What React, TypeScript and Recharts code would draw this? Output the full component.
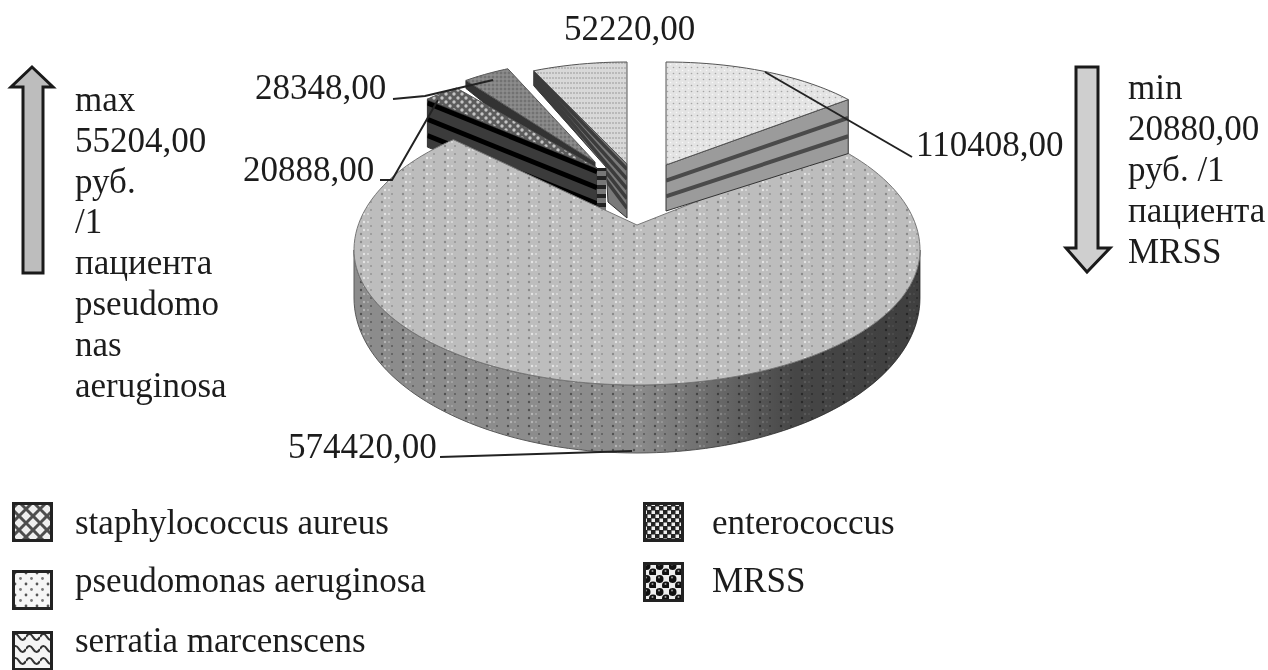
import { PieChart, Pie, Legend } from "recharts";

const sliceNames = ["serratia marcenscens", "enterococcus", "MRSS", "staphylococcus aureus", "pseudomonas aeruginosa"];
const sliceValues = [52220, 28348, 20888, 574420, 110408];
const legendLeft = ["staphylococcus aureus", "pseudomonas aeruginosa", "serratia marcenscens"];
const legendRight = ["enterococcus", "MRSS"];
const maxNote = ["max", "55204,00", "руб.", "/1", "пациента", "pseudomo", "nas", "aeruginosa"];
const minNote = ["min", "20880,00", "руб. /1", "пациента", "MRSS"];

const chartData = sliceNames.map((name, i) => ({ name, value: sliceValues[i] }));
const FONT = '"Liberation Serif", "Times New Roman", serif';
const INK = "#1c1c1c";

// how each slice is pulled apart and tilted, the angles come from the Pie
const tilt: Record<string, any> = {
  "serratia marcenscens": { cx: 627, cy: 164, rx: 230, ryBack: 102, ryFront: 102, wall: "lo", apexDepth: 54, rimDepth: 15, kink: [[-19, 38], [-21, 3]], top: "url(#topSerratia)", wallFill: "#7a7a7a", stripeColor: "#3c3c3c", stripeWidth: 3.5, stripes: [0.1, 0.28, 0.46, 0.64, 0.82] },
  enterococcus: { cx: 595, cy: 162, rx: 215, ryBack: 102, ryFront: 102, wall: "lo", apexDepth: 30, rimDepth: 8, top: "url(#topEntero)", wallFill: "#333", stripeColor: "#111", stripeWidth: 1, stripes: [] },
  MRSS: { cx: 597, cy: 168, rx: 234, ryBack: 100, ryFront: 100, wall: "lo", apexDepth: 47, rimDepth: 48, endPanel: 9, top: "url(#topMrss)", wallFill: "#3b3b3b", stripeColor: "#000", stripeWidth: 5, stripes: [0.08, 0.42, 0.76] },
  "staphylococcus aureus": { cx: 637, cy: 250, rx: 283, ryBack: 145, ryFront: 135, apexY: 225, hiShift: 6, loShift: -6, top: "url(#topStaph)", side: "url(#sideStaph)" },
  "pseudomonas aeruginosa": { cx: 666, cy: 165, rx: 236, ryBack: 103, ryFront: 103, wall: "hi", apexDepth: 46, rimDepth: 54, top: "url(#topPseudo)", wallFill: "#9b9b9b", stripeColor: "#4a4a4a", stripeWidth: 4, stripes: [0.34, 0.68] },
};

// where the value labels sit and the leader line back to the slice
const labelPlace: Record<string, any> = {
  "serratia marcenscens": { x: 564, y: 40, line: "" },
  enterococcus: { x: 255, y: 99, line: "393,99 425,96 493,80" },
  MRSS: { x: 243, y: 181, line: "380,180 392,180 438,100" },
  "staphylococcus aureus": { x: 288, y: 458, line: "440,457 632,451" },
  "pseudomonas aeruginosa": { x: 916, y: 156, line: "765,72 912,157" },
};

const swatchFill: Record<string, string> = {
  "staphylococcus aureus": "url(#swStaph)",
  "pseudomonas aeruginosa": "url(#swPseudo)",
  "serratia marcenscens": "url(#swSerratia)",
  enterococcus: "url(#swEntero)",
  MRSS: "url(#swMrss)",
};

function Slice3D(props: any) {
  const g = tilt[props.name];
  const a0 = 90 - props.startAngle;
  const a1 = 90 - props.endAngle;
  const lo = Math.min(a0, a1) + (g.loShift || 0);
  const hi = Math.max(a0, a1) + (g.hiShift || 0);
  const pt = (a: number) => {
    const r = (a * Math.PI) / 180;
    const c = Math.cos(r);
    return [g.cx + g.rx * Math.sin(r), g.cy - (c > 0 ? g.ryBack : g.ryFront) * c];
  };
  const rim: number[][] = [];
  for (let a = lo; a < hi; a += 2) rim.push(pt(a));
  rim.push(pt(hi));
  const apex = [g.cx, g.apexY ?? g.cy];
  const topPath = "M" + [apex, ...rim].map((p) => p.join(" ")).join("L") + "Z";

  if (g.side) {
    // front rim of the big slice, deeper towards the viewer
    const front: number[][] = [];
    const back: number[][] = [];
    for (let a = -270; a <= -90; a += 2) {
      const p = pt(a);
      front.push(p);
      const depth = 48 + 20 * Math.abs(Math.cos((a * Math.PI) / 180));
      back.unshift([p[0], p[1] + depth]);
    }
    const sidePath = "M" + [...front, ...back].map((p) => p.join(" ")).join("L") + "Z";
    return (
      <g>
        <path d={sidePath} fill={g.side} stroke="#5a5a5a" strokeWidth={1} />
        <path d={sidePath} fill="url(#sideShade)" />
        <path d={topPath} fill={g.top} stroke="#777" strokeWidth={1} />
      </g>
    );
  }

  const edge = pt(g.wall === "hi" ? hi : lo);
  const wallPts = [edge, apex, [apex[0], apex[1] + g.apexDepth]];
  (g.kink || []).forEach((k: number[]) => wallPts.push([apex[0] + k[0], apex[1] + k[1]]));
  wallPts.push([edge[0], edge[1] + g.rimDepth]);
  const wallPoints = wallPts.map((p) => p.join(",")).join(" ");
  const clipId = "wall" + props.name.replace(/\s/g, "");
  return (
    <g>
      <clipPath id={clipId}>
        <polygon points={wallPoints} />
      </clipPath>
      <polygon points={wallPoints} fill={g.wallFill} stroke="#333" strokeWidth={1} />
      <g clipPath={`url(#${clipId})`}>
        {g.stripes.map((t: number) => (
          <line
            key={t}
            x1={edge[0]}
            y1={edge[1] + g.rimDepth * t}
            x2={apex[0]}
            y2={apex[1] + g.apexDepth * t}
            stroke={g.stripeColor}
            strokeWidth={g.stripeWidth}
          />
        ))}
      </g>
      {g.endPanel && (
        <rect x={apex[0]} y={apex[1]} width={g.endPanel} height={g.apexDepth} fill="url(#endStripes)" />
      )}
      <path d={topPath} fill={g.top} stroke="#555" strokeWidth={1} />
    </g>
  );
}

function ValueLabel(props: any) {
  const place = labelPlace[props.name];
  return (
    <g>
      {place.line && <polyline points={place.line} fill="none" stroke="#222" strokeWidth={2} />}
      <text x={place.x} y={place.y} fontFamily={FONT} fontSize={35} fill={INK} textAnchor="start">
        {props.value.toFixed(2).replace(".", ",")}
      </text>
    </g>
  );
}

function LegendRows({ names, swatchX, textX, swatchTop, textTop }: { names: string[]; swatchX: number; textX: number; swatchTop: number[]; textTop: number[] }) {
  return (
    <>
      {names.map((name, i) => (
        <div key={name}>
          <svg style={{ position: "absolute", left: swatchX, top: swatchTop[i] }} width={41} height={40}>
            <rect x={1.5} y={1.5} width={38} height={37} fill={swatchFill[name]} stroke="#222" strokeWidth={3} />
          </svg>
          <div style={{ position: "absolute", left: textX, top: textTop[i], fontFamily: FONT, fontSize: 35, lineHeight: "40px", color: INK, whiteSpace: "nowrap" }}>
            {name}
          </div>
        </div>
      ))}
    </>
  );
}

function TwoColumnLegend() {
  return (
    <div>
      <LegendRows names={legendLeft} swatchX={12} textX={75} swatchTop={[502, 570, 631]} textTop={[503, 561, 621]} />
      <LegendRows names={legendRight} swatchX={643} textX={712} swatchTop={[502, 562]} textTop={[503, 561]} />
    </div>
  );
}

export default function App() {
  return (
    <div style={{ position: "absolute", left: 0, top: 0, width: 1268, height: 670, overflow: "hidden", background: "#fff", filter: "blur(0.7px)" }}>
      <PieChart width={1268} height={670} margin={{ top: 0, right: 0, bottom: 0, left: 0 }}>
        <defs>
          <pattern id="topStaph" width={21} height={8} patternUnits="userSpaceOnUse">
            <rect width={21} height={8} fill="#bdbdbd" />
            <circle cx={4} cy={2} r={1.2} fill="#8a8a8a" />
            <circle cx={7} cy={6} r={1.2} fill="#e4e4e4" />
            <circle cx={14} cy={2} r={1} fill="#959595" />
            <circle cx={11} cy={6} r={1} fill="#dedede" />
          </pattern>
          <pattern id="sideStaph" width={21} height={8} patternUnits="userSpaceOnUse">
            <rect width={21} height={8} fill="#8c8c8c" />
            <circle cx={4} cy={2} r={1.2} fill="#505050" />
            <circle cx={7} cy={6} r={1.2} fill="#b5b5b5" />
            <circle cx={14} cy={2} r={1} fill="#5a5a5a" />
            <circle cx={11} cy={6} r={1} fill="#aaa" />
          </pattern>
          <linearGradient id="sideShade" x1="0" y1="0" x2="1" y2="0">
            <stop offset="0.5" stopColor="#000" stopOpacity={0} />
            <stop offset="0.78" stopColor="#000" stopOpacity={0.5} />
            <stop offset="1" stopColor="#000" stopOpacity={0.55} />
          </linearGradient>
          <pattern id="topPseudo" width={6} height={6} patternUnits="userSpaceOnUse">
            <rect width={6} height={6} fill="#e4e4e4" />
            <circle cx={1.5} cy={1.5} r={0.8} fill="#a5a5a5" />
            <circle cx={4.5} cy={4.5} r={0.8} fill="#f8f8f8" />
          </pattern>
          <pattern id="topSerratia" width={6} height={10} patternUnits="userSpaceOnUse">
            <rect width={6} height={10} fill="#d8d8d8" />
            <path d="M0 3h6M0 8h6" stroke="#9a9a9a" strokeWidth={1.2} strokeDasharray="2 1" />
          </pattern>
          <pattern id="topEntero" width={4} height={4} patternUnits="userSpaceOnUse">
            <rect width={4} height={4} fill="#858585" />
            <circle cx={1} cy={1} r={0.8} fill="#5a5a5a" />
            <circle cx={3} cy={3} r={0.6} fill="#a5a5a5" />
          </pattern>
          <pattern id="topMrss" width={8} height={8} patternUnits="userSpaceOnUse">
            <rect width={8} height={8} fill="#5c5c5c" />
            <circle cx={2} cy={2} r={1.7} fill="#c4c4c4" />
            <circle cx={6} cy={6} r={1.7} fill="#c4c4c4" />
          </pattern>
          <pattern id="endStripes" width={8} height={9} patternUnits="userSpaceOnUse">
            <rect width={8} height={9} fill="#777" />
            <rect y={5} width={8} height={4} fill="#222" />
          </pattern>
          <pattern id="swStaph" width={14} height={14} patternUnits="userSpaceOnUse">
            <rect width={14} height={14} fill="#eee" />
            <path d="M0 7L7 0M7 14L14 7M0 7L7 14M7 0L14 7" stroke="#4d4d4d" strokeWidth={3} />
          </pattern>
          <pattern id="swPseudo" width={11} height={11} patternUnits="userSpaceOnUse">
            <rect width={11} height={11} fill="#f5f5f5" />
            <circle cx={3} cy={3} r={1.4} fill="#555" />
            <circle cx={8.5} cy={8.5} r={1.4} fill="#777" />
          </pattern>
          <pattern id="swSerratia" width={14} height={12} patternUnits="userSpaceOnUse">
            <rect width={14} height={12} fill="#f5f5f5" />
            <path d="M0 6q3.5 -6 7 0t7 0" fill="none" stroke="#333" strokeWidth={2.2} />
          </pattern>
          <pattern id="swEntero" width={8} height={8} patternUnits="userSpaceOnUse">
            <rect width={8} height={8} fill="#222" />
            <rect x={0.5} y={0.5} width={3.5} height={3.5} fill="#eee" />
            <rect x={4.5} y={4.5} width={3.5} height={3.5} fill="#eee" />
          </pattern>
          <pattern id="swMrss" width={13} height={13} patternUnits="userSpaceOnUse">
            <rect width={13} height={13} fill="#eee" />
            <circle cx={3.5} cy={4} r={4} fill="#111" />
            <circle cx={10} cy={10.5} r={4} fill="#111" />
            <circle cx={3} cy={2.5} r={1} fill="#999" />
            <circle cx={9.5} cy={9} r={1} fill="#999" />
          </pattern>
        </defs>

        <Pie
          data={chartData}
          dataKey="value"
          nameKey="name"
          cx={637}
          cy={250}
          outerRadius={283}
          startAngle={90}
          endAngle={450}
          stroke="none"
          isAnimationActive={false}
          shape={Slice3D}
          label={ValueLabel}
          labelLine={false}
        />

        <polygon points="32,67 53,87 43,87 43,273 23,273 23,87 11,87" fill="#bdbdbd" stroke="#1a1a1a" strokeWidth={3} />
        <polygon points="1076,67 1098,67 1098,248 1110,248 1087,272 1066,248 1076,248" fill="#cfcfcf" stroke="#1a1a1a" strokeWidth={3} />

        {maxNote.map((line, i) => (
          <text key={line} x={75} y={111 + i * 40.8} fontFamily={FONT} fontSize={35} fill={INK}>
            {line}
          </text>
        ))}
        {minNote.map((line, i) => (
          <text key={line} x={1128} y={99 + i * 41} fontFamily={FONT} fontSize={35} fill={INK}>
            {line}
          </text>
        ))}

        <Legend content={<TwoColumnLegend />} wrapperStyle={{ position: "absolute", left: 0, top: 0, width: 1268, height: 670 }} />
      </PieChart>
    </div>
  );
}
